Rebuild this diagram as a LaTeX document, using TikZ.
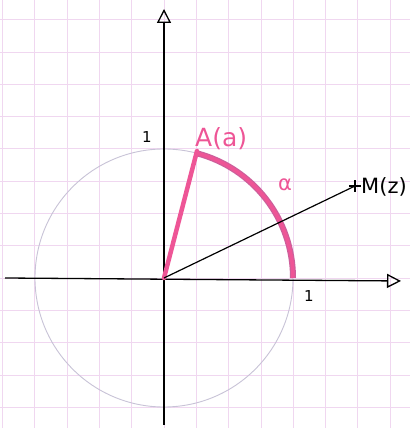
\documentclass[tikz,border=0pt]{standalone}
\usepackage{fontspec}
\setmainfont{DejaVu Sans}
\usetikzlibrary{arrows.meta,calc}
\definecolor{gridpink}{RGB}{240,215,240}
\definecolor{circgray}{RGB}{200,195,215}
\definecolor{penpink}{RGB}{238,85,150}
\definecolor{arcpink}{RGB}{205,95,155}
\begin{document}
\begin{tikzpicture}[x=1pt,y=1pt,
  gridline/.style={gridpink, line width=0.7pt},
  axis/.style={black, line width=1.3pt, -{Triangle[open,length=14pt,width=14pt,line width=1.3pt]}},
  pinkline/.style={penpink, line width=4.5pt, line cap=round},
  lbl/.style={font=\fontsize{15}{15}\selectfont, inner sep=0pt},
  biglbl/.style={font=\fontsize{21}{21}\selectfont, inner sep=0pt}]
\useasboundingbox (0,0) rectangle (410,428);
\fill[white] (0,0) rectangle (410,428);
% grid
\foreach \k in {-5,...,7} {
  \draw[gridline] ({164+32.3*\k},0) -- ({164+32.3*\k},428);
}
\foreach \k in {-4,...,8} {
  \draw[gridline] (0,{150+32.3*\k}) -- (410,{150+32.3*\k});
}
\coordinate (O) at (164,150);
\coordinate (A) at (197,277);
\coordinate (M) at (355,242);
\coordinate (xs) at (5,150);
\coordinate (xe) at (401,147);
\coordinate (ys) at (164,3);
\coordinate (ye) at (164,419);
% circle
\draw[circgray, line width=0.9pt] (O) circle (129);
% pink arc
\draw[arcpink, line width=6pt] (O) ++(75:129) arc (75:0:129);
\draw[penpink, line width=3.5pt] (O) ++(75:129) arc (75:0:129);
% axes
\draw[axis] (xs) -- (xe);
\draw[axis] (ys) -- (ye);
% pink segment
\draw[pinkline] (O) -- (A);
% black segment to M
\draw[black, line width=1.2pt] (O) -- (M);
\draw[black, line width=1.2pt] ($(M)+(-6,0)$) -- ($(M)+(6,0)$);
\draw[black, line width=1.2pt] ($(M)+(0,-6)$) -- ($(M)+(0,6)$);
% labels
\node[lbl] (one_y) at (147,291) {1};
\node[lbl] (one_x) at (309,132) {1};
\node[biglbl, font=\fontsize{25}{25}\selectfont, text=penpink, anchor=west] (Alab) at (195,289) {A(a)};
\node[biglbl, text=penpink] (alpha) at (285,243) {α};
\node[biglbl, anchor=west] (Mlab) at (361,241) {M(z)};
\end{tikzpicture}
\end{document}
